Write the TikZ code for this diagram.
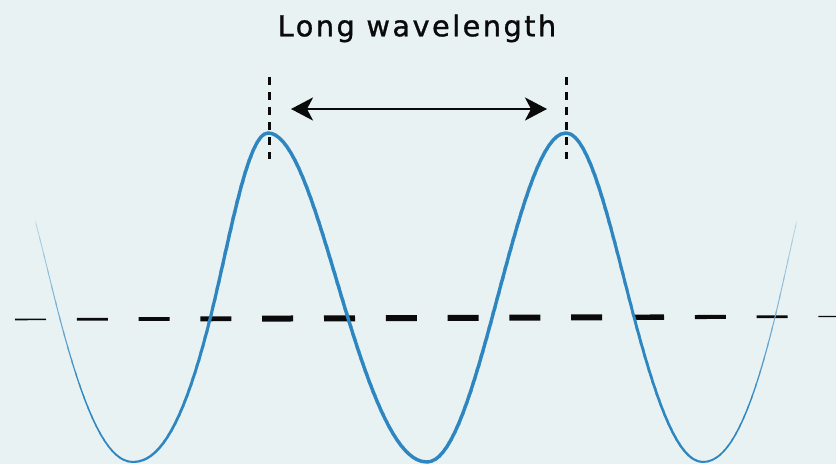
\documentclass[tikz,border=0pt]{standalone}
\usepackage{fontspec}
\setmainfont{DejaVu Sans}
\newfontfamily\labelfont[LetterSpace=8.5,FakeBold=1]{DejaVu Sans}
\usetikzlibrary{arrows.meta}
\definecolor{bgc}{RGB}{232,242,243}
\definecolor{wavec}{RGB}{46,134,193}
\definecolor{inkc}{RGB}{10,10,10}
\newcommand\wavepath{(-5,133) .. controls (18.4,133) and (38.3,236.7) .. (60,319)
 .. controls (84.4,411.5) and (106.8,462) .. (133,462)
 .. controls (160.7,462) and (184.3,421.3) .. (210,319)
 .. controls (229.4,241.8) and (247.1,133) .. (268,133)
 .. controls (296.8,133) and (321.3,231.2) .. (348,318)
 .. controls (374.4,403.8) and (398.6,462) .. (427,462)
 .. controls (450.4,462) and (470.3,398.3) .. (492,318)
 .. controls (516.7,226.5) and (539.4,133) .. (566,133)
 .. controls (590.4,133) and (611.3,231.1) .. (634,317)
 .. controls (657.1,404.2) and (678.2,462) .. (703,462)
 .. controls (728.9,462) and (750.9,415.7) .. (775,317)
 .. controls (794.1,238.9) and (811.5,133) .. (832,133)}
\tikzset{
  vdash/.style={inkc, line width=3pt, dash pattern=on 7.5pt off 7.5pt},
  spanarrow/.style={inkc, line width=2.8pt, {Stealth[length=22pt,width=23pt,inset=6pt]}-{Stealth[length=22pt,width=23pt,inset=6pt]}},
  titletext/.style={font=\labelfont\fontsize{28.8}{32}\selectfont, text=inkc, anchor=base, inner sep=0pt}
}
\begin{document}
\begin{tikzpicture}[x=1pt,y=-1pt]
\useasboundingbox (0,0) rectangle (836,464);
\fill[bgc] (0,0) rectangle (836,464);
% horizontal tapered dashed axis
\foreach \k in {0,...,13}{
  \pgfmathsetmacro\xa{15+61.8*\k}
  \pgfmathsetmacro\xb{\xa+31}
  \pgfmathsetmacro\xc{\xa+15.5}
  \pgfmathsetmacro\w{min(6,1.3+4.7/260*(\xc-15),6-4.7/216*(\xc-620))}
  \draw[line width=\w pt, inkc] (\xa,{319.5-3/821*(\xa-15)}) -- (\xb,{319.5-3/821*(\xb-15)});
}
% tapered wave
\foreach \i in {0,...,189}{
  \pgfmathsetmacro\xa{36+4*\i}
  \pgfmathsetmacro\xm{\xa+2}
  \pgfmathsetmacro\w{min(3.4,0.7+2.7/194*(\xm-36),0.7+2.7/196*(796-\xm))}
  \pgfmathsetmacro\p{min(100,30+70/45*(\xm-36),30+70/45*(796-\xm))}
  \begin{scope}
    \clip (\xa-0.4,0) rectangle (\xa+4.4,464);
    \draw[wavec!\p!bgc, line width=\w pt] \wavepath;
  \end{scope}
}
% peaks and wavelength marker
\coordinate (peakL) at (269,133);
\coordinate (peakR) at (566,133);
\coordinate (topL) at (269,77);
\coordinate (botL) at (269,158.5);
\coordinate (topR) at (566,77);
\coordinate (botR) at (566,158.5);
\draw[vdash] (topL) -- (botL);
\draw[vdash] (topR) -- (botR);
\coordinate (arrL) at (291,109);
\coordinate (arrR) at (547,109);
\draw[spanarrow] (arrL) -- (arrR);
\node[titletext] (title) at (417,36.3) {Long wavelength};
\end{tikzpicture}
\end{document}
